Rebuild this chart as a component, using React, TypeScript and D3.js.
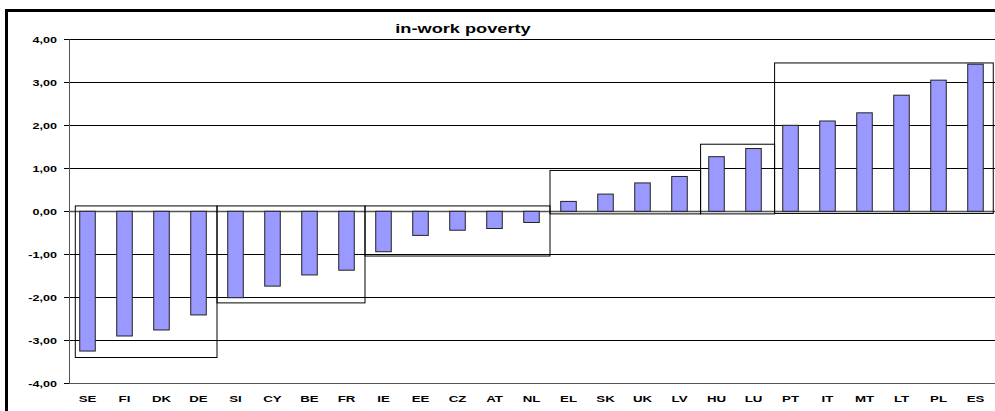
import React from "react";
import * as d3 from "d3";

const categories = ["SE","FI","DK","DE","SI","CY","BE","FR","IE","EE","CZ","AT","NL","EL","SK","UK","LV","HU","LU","PT","IT","MT","LT","PL","ES"];
const values = [-3.25,-2.9,-2.76,-2.41,-2.01,-1.74,-1.48,-1.37,-0.94,-0.56,-0.44,-0.4,-0.26,0.23,0.4,0.66,0.81,1.27,1.46,2.0,2.1,2.29,2.7,3.05,3.42];
const yTicks = [4,3,2,1,0,-1,-2,-3,-4];
const title = "in-work poverty";
// group boxes: fractional category positions and value ranges
const boxStart = [0.17, 4, 8, 13, 17.07, 19.07];
const boxEnd = [4, 8, 13, 17.07, 19.07, 24.98];
const boxLow = [-3.4, -2.13, -1.04, -0.06, -0.06, -0.05];
const boxHigh = [0.125, 0.125, 0.125, 0.95, 1.56, 3.45];

const W = 995, H = 411;
const left = 69, right = 994, top = 39.3, bottom = 383.3;
const SX = 1.4;

export default function App() {
  const x = d3.scaleBand<string>().domain(categories).range([left, right]).padding(0);
  const xi = d3.scaleLinear().domain([0, categories.length]).range([left, right]);
  const y = d3.scaleLinear().domain([-4, 4]).range([bottom, top]);
  const bw = x.bandwidth() * 0.42;
  const fmt = (v: number) => d3.format(".2f")(v).replace(".", ",").replace("−", "-");
  const font = "Arial, 'Liberation Sans', sans-serif";
  return (
    <svg width={W} height={H} style={{ position: "absolute", left: 0, top: 0, background: "#fff", overflow: "hidden" }}>
      <rect x={0} y={0} width={W} height={H} fill="#fff" />
      {/* outer chart border (top and left visible) */}
      <line x1={5} x2={W} y1={10.5} y2={10.5} stroke="#000" strokeWidth={3} />
      <line x1={6.5} x2={6.5} y1={9} y2={H} stroke="#000" strokeWidth={3} />
      {/* gridlines */}
      {yTicks.map((t) => (
        <line key={"g" + t} x1={left} x2={W} y1={Math.round(y(t)) + 0.5} y2={Math.round(y(t)) + 0.5}
          stroke={t === -4 || t === 0 ? "#555" : "#000"} strokeWidth={t === 0 ? 1.5 : 1} />
      ))}
      {/* y axis */}
      <line x1={left + 0.5} x2={left + 0.5} y1={y(4)} y2={y(-4)} stroke="#555" />
      {yTicks.map((t) => (
        <g key={"t" + t}>
          <line x1={left - 5} x2={left} y1={Math.round(y(t)) + 0.5} y2={Math.round(y(t)) + 0.5} stroke="#000" />
          <text transform={`translate(57,${y(t) + 3.2}) scale(${SX},1)`} textAnchor="end"
            fontFamily={font} fontWeight="bold" fontSize={9} fill="#000">{fmt(t)}</text>
        </g>
      ))}
      {/* bars */}
      {categories.map((c, i) => {
        const v = values[i];
        const cx = (x(c) as number) + x.bandwidth() / 2;
        const y0 = y(0), y1 = y(v);
        return (
          <rect key={c} x={cx - bw / 2} y={Math.min(y0, y1)} width={bw} height={Math.abs(y1 - y0)}
            fill="#9999FF" stroke="#222" strokeWidth={1} />
        );
      })}
      {/* group boxes */}
      {boxStart.map((s, i) => (
        <rect key={"b" + i} x={xi(s)} y={y(boxHigh[i])} width={xi(boxEnd[i]) - xi(s)}
          height={y(boxLow[i]) - y(boxHigh[i])} fill="none" stroke="#000" strokeWidth={1} />
      ))}
      {/* x labels */}
      {categories.map((c) => (
        <text key={"l" + c} transform={`translate(${(x(c) as number) + x.bandwidth() / 2},402) scale(${SX},1)`}
          textAnchor="middle" fontFamily={font} fontWeight="bold" fontSize={9.5} fill="#000">{c}</text>
      ))}
      {/* title */}
      <text transform={`translate(463,32.7) scale(${SX},1)`} textAnchor="middle" fontFamily={font}
        fontWeight="bold" fontSize={13} fill="#000">{title}</text>
    </svg>
  );
}
